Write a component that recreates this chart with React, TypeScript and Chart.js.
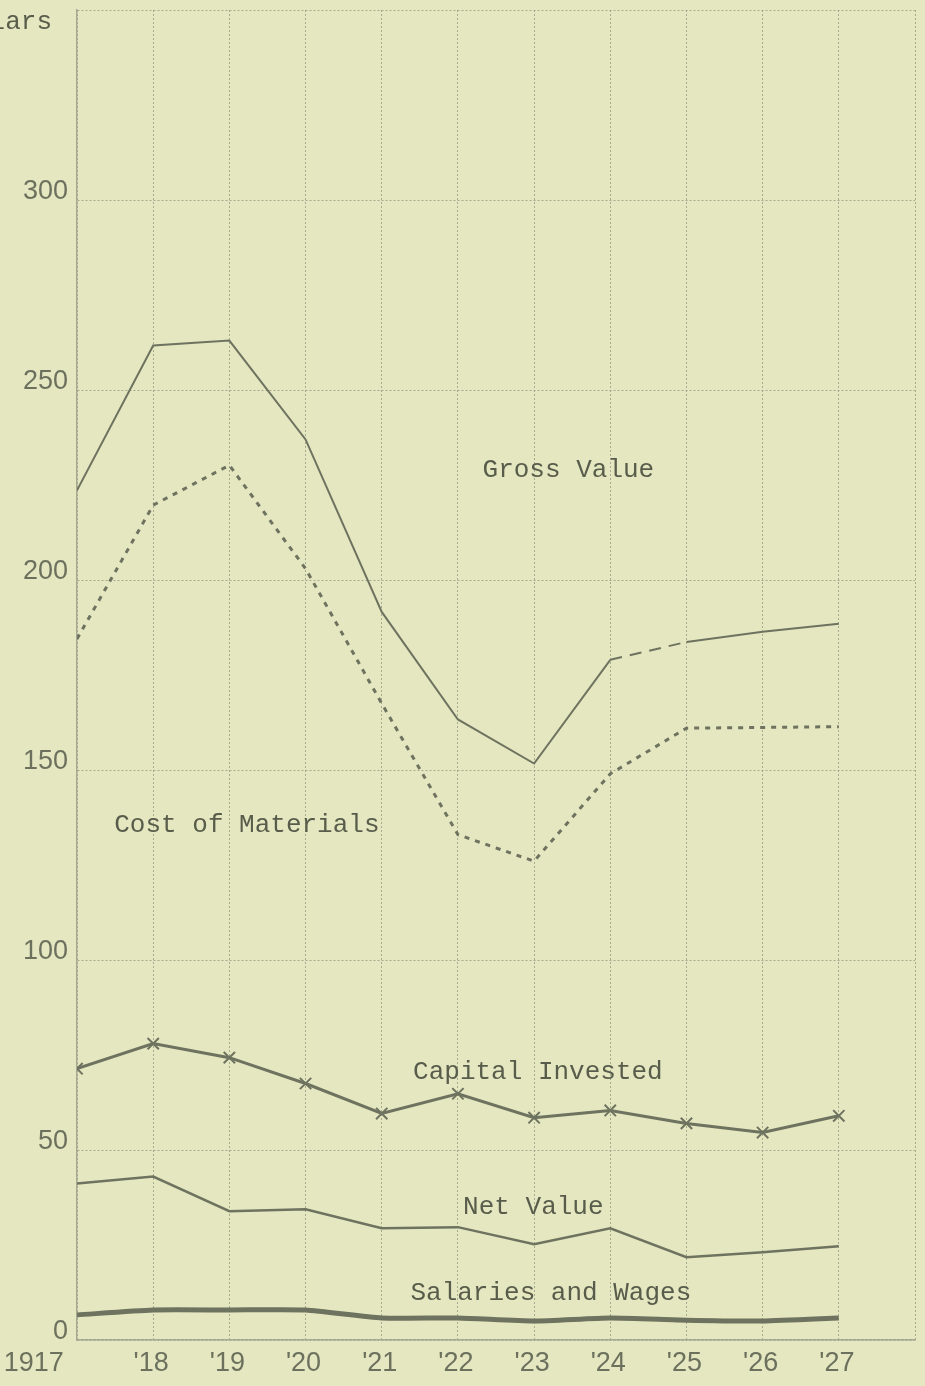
import React, { useEffect, useRef } from 'react';
import { Chart, registerables } from 'chart.js';

Chart.register(...registerables);

const years = [1917, 1918, 1919, 1920, 1921, 1922, 1923, 1924, 1925, 1926, 1927];
const xTickLabels = ['1917', "'18", "'19", "'20", "'21", "'22", "'23", "'24", "'25", "'26", "'27"];
const grossValue = [223.6, 261.7, 263.0, 237.0, 191.6, 163.3, 151.7, 179.0, 183.7, 186.4, 188.5];
const costOfMaterials = [184.5, 219.7, 230.2, 203.0, 167.5, 133.0, 126.0, 149.0, 161.0, 161.2, 161.4];
const capitalInvested = [71.4, 78.0, 74.3, 67.5, 59.6, 64.8, 58.5, 60.4, 57.0, 54.6, 59.0];
const netValue = [41.2, 43.0, 33.9, 34.4, 29.4, 29.7, 25.2, 29.4, 21.8, 23.1, 24.7];
const salariesAndWages = [6.6, 7.9, 7.9, 7.9, 5.8, 5.8, 5.0, 5.8, 5.2, 5.0, 5.8];

const seriesLabels = ['Gross Value', 'Cost of Materials', 'Capital Invested', 'Net Value', 'Salaries and Wages'];
const labelYears = [1923.45, 1919.23, 1923.05, 1922.99, 1923.22];
const labelValues = [228.9, 135.4, 70.6, 34.9, 12.3];
const axisTitle = 'Dollars';

const BG = 'rgb(229,231,192)';
const LINE = 'rgb(110,115,95)';
const TEXT = 'rgb(88,93,75)';
const TICK = 'rgb(108,113,94)';
const GRID = 'rgba(150,155,130,0.8)';

const toPoints = (vals: number[]) => vals.map((v, i) => ({ x: years[i], y: v }));

const bgPlugin = {
  id: 'paperBg',
  beforeDraw(chart: any) {
    const { ctx, width, height } = chart;
    ctx.save();
    ctx.fillStyle = BG;
    ctx.fillRect(0, 0, width, height);
    ctx.restore();
  },
};

const textPlugin = {
  id: 'seriesText',
  afterDatasetsDraw(chart: any) {
    const { ctx, scales } = chart;
    const x = scales.x;
    const y = scales.y;
    ctx.save();
    ctx.font = '26px "Liberation Mono", monospace';
    ctx.fillStyle = TEXT;
    ctx.textAlign = 'center';
    ctx.textBaseline = 'middle';
    seriesLabels.forEach((t, i) => {
      ctx.fillText(t, x.getPixelForValue(labelYears[i]), y.getPixelForValue(labelValues[i]));
    });
    ctx.textAlign = 'right';
    ctx.fillText(axisTitle, 52, 22);
    ctx.restore();
  },
};

export default function App() {
  const ref = useRef<HTMLCanvasElement | null>(null);

  useEffect(() => {
    if (!ref.current) return;
    const chart = new Chart(ref.current, {
      type: 'line',
      data: {
        datasets: [
          {
            label: 'Gross Value',
            data: toPoints(grossValue),
            borderColor: LINE,
            borderWidth: 2,
            pointRadius: 0,
            tension: 0,
            segment: {
              borderDash: (c: any) => (c.p0DataIndex === 7 ? [12, 8] : undefined),
            },
          },
          {
            label: 'Cost of Materials',
            data: toPoints(costOfMaterials),
            borderColor: LINE,
            borderWidth: 3,
            borderDash: [5, 6],
            pointRadius: 0,
            tension: 0,
          },
          {
            label: 'Capital Invested',
            data: toPoints(capitalInvested),
            borderColor: LINE,
            borderWidth: 3,
            pointStyle: 'crossRot',
            pointRadius: 8,
            pointBorderWidth: 2,
            pointBorderColor: LINE,
            tension: 0,
          },
          {
            label: 'Net Value',
            data: toPoints(netValue),
            borderColor: LINE,
            borderWidth: 2.5,
            pointRadius: 0,
            tension: 0,
          },
          {
            label: 'Salaries and Wages',
            data: toPoints(salariesAndWages),
            borderColor: LINE,
            borderWidth: 5,
            pointRadius: 0,
            tension: 0.2,
          },
        ],
      },
      options: {
        animation: false,
        responsive: false,
        layout: { padding: { top: 10, right: 5, left: 0, bottom: 0 } },
        plugins: {
          legend: { display: false },
          tooltip: { enabled: false },
          title: { display: false },
        },
        scales: {
          x: {
            type: 'linear',
            min: 1917,
            max: 1928,
            afterFit: (s: any) => {
              s.height = 46;
              s.paddingLeft = 0;
              s.paddingRight = 0;
            },
            grid: { color: GRID, lineWidth: 1, drawTicks: false },
            border: { display: true, color: 'rgb(165,170,145)', width: 1.5, dash: [2, 2] },
            ticks: {
              stepSize: 1,
              autoSkip: false,
              maxRotation: 0,
              padding: 7,
              labelOffset: -2,
              color: TICK,
              font: { family: '"Liberation Sans", Arial, sans-serif', size: 27 },
              callback: (v: any) => {
                const i = years.indexOf(Number(v));
                if (i < 0) return '';
                return i === 0 ? xTickLabels[i] + ' '.repeat(11) : xTickLabels[i];
              },
            },
          },
          y: {
            min: 0,
            max: 350,
            afterFit: (s: any) => {
              s.width = 77;
              s.paddingTop = 0;
              s.paddingBottom = 0;
            },
            grid: { color: GRID, lineWidth: 1, drawTicks: false },
            border: { display: true, color: 'rgb(165,170,145)', width: 1.5, dash: [2, 2] },
            ticks: {
              stepSize: 50,
              padding: 9,
              labelOffset: -8,
              color: TICK,
              font: { family: '"Liberation Sans", Arial, sans-serif', size: 27 },
              callback: (v: any) => (Number(v) >= 350 ? '' : String(v)),
            },
          },
        },
      },
      plugins: [bgPlugin, textPlugin],
    } as any);
    return () => chart.destroy();
  }, []);

  return (
    <div style={{ position: 'fixed', left: 0, top: 0, width: 925, height: 1386, background: BG }}>
      <canvas ref={ref} width={925} height={1386} style={{ display: 'block', width: 925, height: 1386 }} />
    </div>
  );
}
